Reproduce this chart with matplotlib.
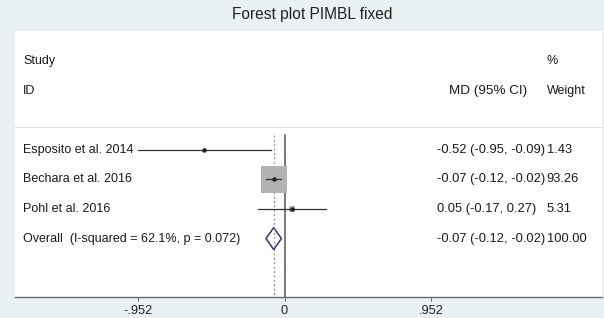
import matplotlib
matplotlib.use("Agg")
import matplotlib.pyplot as plt
import matplotlib.transforms as mtransforms
from matplotlib.patches import Rectangle, Polygon
import numpy as np

plt.rcParams['font.family'] = ['Liberation Sans', 'DejaVu Sans']

title = "Forest plot PIMBL fixed"
studies = ["Esposito et al. 2014", "Bechara et al. 2016", "Pohl et al. 2016"]
md = [-0.52, -0.07, 0.05]
lo = [-0.95, -0.12, -0.17]
hi = [-0.09, -0.02, 0.27]
weights = [1.43, 93.26, 5.31]
ci_text = ["-0.52 (-0.95, -0.09)", "-0.07 (-0.12, -0.02)", "0.05 (-0.17, 0.27)"]
weight_text = ["1.43", "93.26", "5.31"]
overall_label = "Overall  (I-squared = 62.1%, p = 0.072)"
overall_md, overall_lo, overall_hi = -0.07, -0.12, -0.02
overall_ci_text = "-0.07 (-0.12, -0.02)"
overall_weight_text = "100.00"
xticks = [-0.952, 0, 0.952]
xticklabels = ["-.952", "0", ".952"]

W, H = 604, 318
fig = plt.figure(figsize=(W / 100, H / 100), dpi=100)
fig.patch.set_facecolor('#eaf1f3')

left_px, right_px, top_px, bot_px = 15, 602, 31, 297
ax = fig.add_axes([left_px / W, 1 - bot_px / H, (right_px - left_px) / W, (bot_px - top_px) / H])
ax.set_facecolor('white')

x0_px, scale = 284.5, 154.0
ax.set_xlim((left_px - x0_px) / scale, (right_px - x0_px) / scale)
ax.set_ylim(4.98, -4.03)

for s in ['top', 'left', 'right']:
    ax.spines[s].set_visible(False)
ax.spines['bottom'].set_color('#6e6e6e')
ax.spines['bottom'].set_linewidth(1.0)
ax.set_yticks([])
ax.set_xticks(xticks)
ax.set_xticklabels(xticklabels, fontsize=9.2, color='#222222')
ax.tick_params(axis='x', length=3, width=0.8, color='#6e6e6e', pad=2.5)

trans = mtransforms.blended_transform_factory(ax.transAxes, ax.transData)
fs = 9.0
fsv = 9.3
tc = '#1a1a1a'

# header
ax.text(0.0136, -3, "Study", transform=trans, fontsize=fs, va='center', ha='left', color=tc)
ax.text(0.0136, -2, "ID", transform=trans, fontsize=fs, va='center', ha='left', color=tc)
ax.text(0.915, -3, "%", transform=trans, fontsize=fs, va='center', ha='center', color=tc)
ax.text(0.739, -2, "MD (95% CI)", transform=trans, fontsize=9.7, va='center', ha='left', color=tc)
ax.text(0.906, -2, "Weight", transform=trans, fontsize=fs, va='center', ha='left', color=tc)

# separator
ax.plot([0, 1], [-0.78, -0.78], transform=trans, color='#e3e3e3', lw=0.8)

# vertical lines
ax.plot([0, 0], [-0.5, 4.98], color='#555555', lw=1.1, zorder=1)
ax.plot([overall_md, overall_md], [-0.5, 4.98], color='#b08090', lw=0.9, ls=(0, (1.5, 2)), zorder=1)

# studies
max_side_px = 26.0
px_to_data_x = 1 / scale
row_px = 29.5
for i, (name, m, l, h, w) in enumerate(zip(studies, md, lo, hi, weights)):
    side = max_side_px * np.sqrt(w / max(weights))
    if side > 2:
        ax.add_patch(Rectangle((m - side / 2 * px_to_data_x, i - side / 2 / row_px),
                               side * px_to_data_x, side / row_px,
                               facecolor='#b3b3b3', edgecolor='none', zorder=2))
    ax.plot([l, h], [i, i], color='#333333', lw=0.9, zorder=3)
    ax.plot([m], [i], marker='o', ms=2.2, color='#222222', zorder=4)
    ax.text(0.0136, i, name, transform=trans, fontsize=fs, va='center', ha='left', color=tc)
    ax.text(0.719, i, ci_text[i], transform=trans, fontsize=fsv, va='center', ha='left', color=tc)
    ax.text(0.906, i, weight_text[i], transform=trans, fontsize=fsv, va='center', ha='left', color=tc)

# overall
oi = len(studies)
dh = 11 / row_px
ax.add_patch(Polygon([[overall_lo, oi], [overall_md, oi - dh], [overall_hi, oi], [overall_md, oi + dh]],
                     closed=True, facecolor='white', edgecolor='#3a3470', lw=1.1, zorder=3))
ax.plot([overall_md, overall_md], [oi - dh, oi + dh], color='#b08090', lw=0.9, ls=(0, (1.5, 2)), zorder=4)
ax.text(0.0136, oi, overall_label, transform=trans, fontsize=fs, va='center', ha='left', color=tc)
ax.text(0.719, oi, overall_ci_text, transform=trans, fontsize=fsv, va='center', ha='left', color=tc)
ax.text(0.906, oi, overall_weight_text, transform=trans, fontsize=fsv, va='center', ha='left', color=tc)

fig.text(312 / W, 1 - 14 / H, title, fontsize=11.2, ha='center', va='center', color='#222222')

fig.savefig("out.png", dpi=100, facecolor=fig.get_facecolor())
